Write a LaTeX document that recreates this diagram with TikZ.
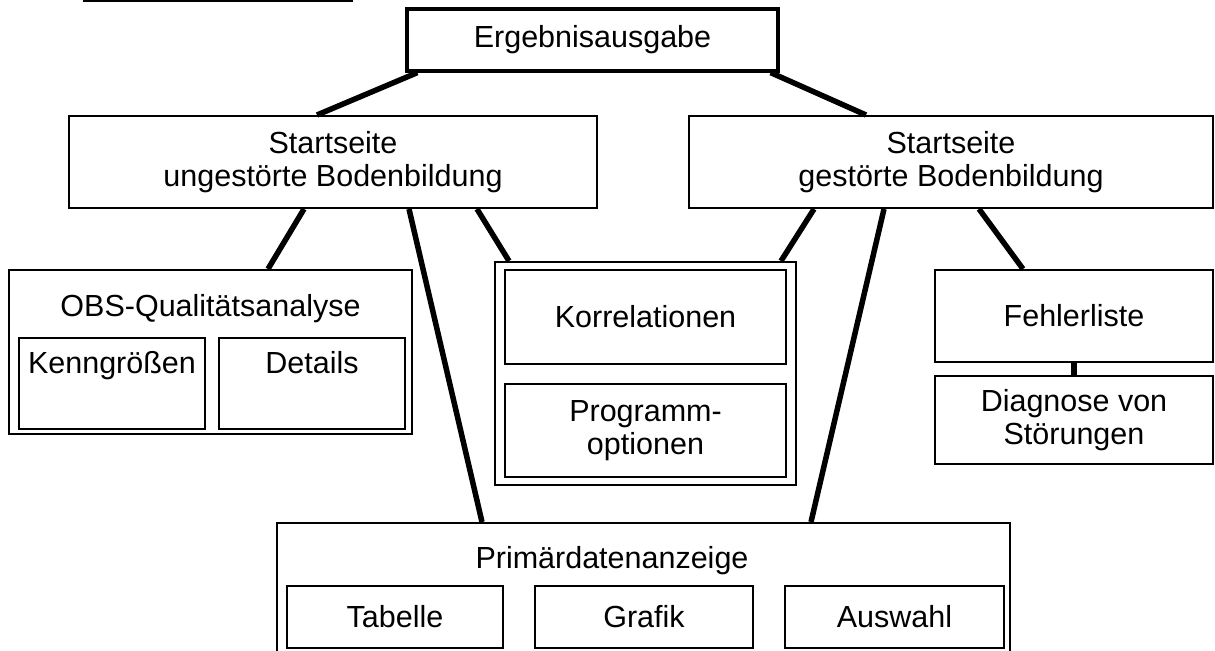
\documentclass[tikz,border=0pt]{standalone}
\usepackage{fontspec}
\setmainfont{Liberation Sans}
\usetikzlibrary{positioning}

\begin{document}
\begin{tikzpicture}[
    x=0.5pt, y=-0.5pt,
    node distance=6pt,
    every node/.style={font=\fontsize{15.25}{16.5}\selectfont},
    box/.style={rectangle, draw, line width=1pt, align=center, inner sep=0pt},
    topbox/.style={box, text height=18pt, text depth=27.5pt, minimum width=93pt},
    smallbox/.style={box, minimum height=31pt},
    link/.style={line width=2.75pt}
  ]
  \useasboundingbox (0,0) rectangle (1215,651);
  \clip (0,0) rectangle (1215,651);

  \draw[line width=0.75pt] (83,1) -- (353,1);

  \node[box, line width=1.6pt, minimum width=185.5pt, minimum height=31pt] (ergeb) at (592.5,40) {Ergebnisausgabe};

  \node[box, minimum width=264pt, minimum height=46pt] (startU) at (333,162) {Startseite\\ungestörte Bodenbildung};
  \node[box, minimum width=262pt, minimum height=46pt] (startG) at (951,162) {Startseite\\gestörte Bodenbildung};

  % OBS-Qualitaetsanalyse
  \node[box, minimum width=201.5pt, minimum height=82pt] (obs) at (210.5,352) {};
  \node[anchor=base] (obstitle) at (210.5,317) {OBS-Qualitätsanalyse};
  \node[topbox, anchor=north] (kenn) at (112,337) {Kenngrößen};
  \node[topbox, right=6pt of kenn] (details) {Details};

  % Korrelationen / Programmoptionen
  \node[box, minimum width=150.5pt, minimum height=111.5pt] (korrgrp) at (645.5,373.5) {};
  \node[box, minimum width=140.5pt, minimum height=47pt] (korr) at (645.5,317) {Korrelationen};
  \node[box, minimum width=140.5pt, minimum height=46.5pt, below=9pt of korr] (prog) {Programm-\\optionen};

  % Fehlerliste
  \node[box, minimum width=139pt, minimum height=46pt] (fehler) at (1074,316) {Fehlerliste};
  \node[box, minimum width=139pt, minimum height=44pt, below=6pt of fehler] (diag) {Diagnose von\\Störungen};

  % Primaerdatenanzeige
  \node[box, minimum width=366.5pt, minimum height=78.5pt] (prim) at (643.5,601.5) {};
  \node[anchor=base] (primtitle) at (612,568) {Primärdatenanzeige};
  \node[smallbox, minimum width=108pt] (tab) at (395,617) {Tabelle};
  \node[smallbox, minimum width=109pt, right=15pt of tab] (grafik) {Grafik};
  \node[smallbox, minimum width=109.5pt, right=15pt of grafik] (auswahl) {Auswahl};

  \draw[link] ([xshift=6pt]ergeb.south west) -- ([xshift=124.5pt]startU.north west);
  \draw[link] ([xshift=-4.5pt]ergeb.south east) -- ([xshift=89pt]startG.north west);

  \draw[link] ([xshift=118pt]startU.south west) -- ([xshift=130pt]obs.north west);
  \draw[link] ([xshift=170.5pt]startU.south west) -- ([xshift=103pt]prim.north west);
  \draw[link] ([xshift=204.5pt]startU.south west) -- ([xshift=7.5pt]korrgrp.north west);

  \draw[link] ([xshift=63pt]startG.south west) -- ([xshift=143.5pt]korrgrp.north west);
  \draw[link] ([xshift=98pt]startG.south west) -- ([xshift=267.5pt]prim.north west);
  \draw[link] ([xshift=145.5pt]startG.south west) -- ([xshift=44.5pt]fehler.north west);

  \draw[link] (fehler.south) -- (diag.north);

\end{tikzpicture}
\end{document}
